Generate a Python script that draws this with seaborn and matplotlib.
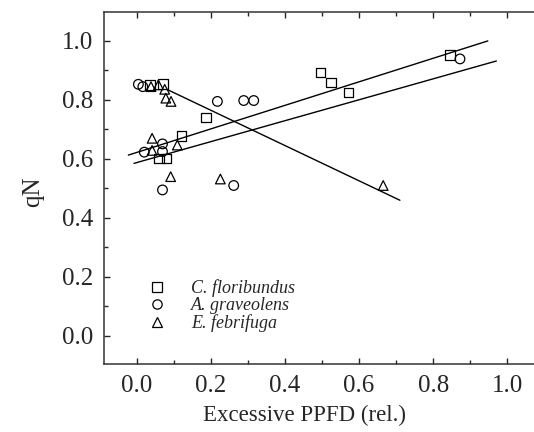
import numpy as np
import pandas as pd
import matplotlib.pyplot as plt
import seaborn as sns
from matplotlib.lines import Line2D
from matplotlib.ticker import MultipleLocator

# valores
x_cf = [0.036, 0.072, 0.188, 0.121, 0.061, 0.081, 0.496, 0.524, 0.571, 0.845]
y_cf = [0.851, 0.853, 0.740, 0.678, 0.602, 0.602, 0.893, 0.859, 0.825, 0.953]

x_ag = [0.005, 0.017, 0.218, 0.289, 0.316, 0.070, 0.021, 0.070, 0.262, 0.070, 0.872]
y_ag = [0.853, 0.845, 0.795, 0.798, 0.798, 0.651, 0.623, 0.625, 0.510, 0.495, 0.939]

x_ef = [0.039, 0.059, 0.076, 0.079, 0.093, 0.042, 0.110, 0.042, 0.092, 0.226, 0.665]
y_ef = [0.845, 0.851, 0.836, 0.806, 0.795, 0.670, 0.647, 0.629, 0.540, 0.532, 0.510]

# retas ajustadas (extremos lidos)
fit_cf_x = [-0.022, 0.947]
fit_cf_y = [0.613, 1.000]
fit_ag_x = [-0.007, 0.970]
fit_ag_y = [0.585, 0.932]
fit_ef_x = [0.085, 0.710]
fit_ef_y = [0.834, 0.460]

especies = ["C. floribundus", "A. graveolens", "E. febrifuga"]
marcadores = {"C. floribundus": "s", "A. graveolens": "o", "E. febrifuga": "^"}

df = pd.concat([
    pd.DataFrame({"x": x_cf, "y": y_cf, "sp": especies[0]}),
    pd.DataFrame({"x": x_ag, "y": y_ag, "sp": especies[1]}),
    pd.DataFrame({"x": x_ef, "y": y_ef, "sp": especies[2]}),
])

sns.set_style("ticks")
plt.rcParams["font.family"] = ["Liberation Serif", "DejaVu Serif"]

fig = plt.figure(figsize=(5.34, 4.32), dpi=100)
ax = fig.add_axes([0.1948, 0.1574, 0.825, 0.8148])

for fx, fy in [(fit_cf_x, fit_cf_y), (fit_ag_x, fit_ag_y), (fit_ef_x, fit_ef_y)]:
    sns.lineplot(x=fx, y=fy, ax=ax, color="black", linewidth=1.0, sort=False)

sns.scatterplot(data=df, x="x", y="y", style="sp", markers=marcadores,
                s=48, facecolor="none", edgecolor="black", linewidth=0.9,
                ax=ax, legend=False, zorder=3)

ax.set_xlim(-0.0876, 1.1)
ax.set_ylim(-0.095, 1.098)
ax.xaxis.set_major_locator(MultipleLocator(0.2))
ax.xaxis.set_minor_locator(MultipleLocator(0.1))
ax.yaxis.set_major_locator(MultipleLocator(0.2))
ax.yaxis.set_minor_locator(MultipleLocator(0.1))
ax.xaxis.set_major_formatter(plt.FormatStrFormatter("%.1f"))
ax.yaxis.set_major_formatter(plt.FormatStrFormatter("%.1f"))
ax.tick_params(which="both", direction="in", top=True, right=True, labelsize=18, pad=8, width=1)
ax.tick_params(which="major", length=4.3)
ax.tick_params(which="minor", length=3)
for s in ax.spines.values():
    s.set_linewidth(1.1)
    s.set_color("#333333")

ax.set_xlabel("Excessive PPFD (rel.)", fontsize=16.5)
ax.set_ylabel("qN", fontsize=18)
ax.xaxis.set_label_coords(0.456, -0.117)
ax.yaxis.set_label_coords(-0.137, 0.49)

handles = [Line2D([], [], marker=marcadores[e], linestyle="none", markersize=6.7,
                  markerfacecolor="none", markeredgecolor="black", markeredgewidth=0.9)
           for e in especies]
leg = ax.legend(handles, especies, loc="lower left", bbox_to_anchor=(0.0525, 0.045),
                frameon=False, prop={"style": "italic", "size": 13},
                handletextpad=1.13, labelspacing=0.0, handlelength=1.5,
                borderpad=0.4)

plt.savefig("out.png", dpi=100)
